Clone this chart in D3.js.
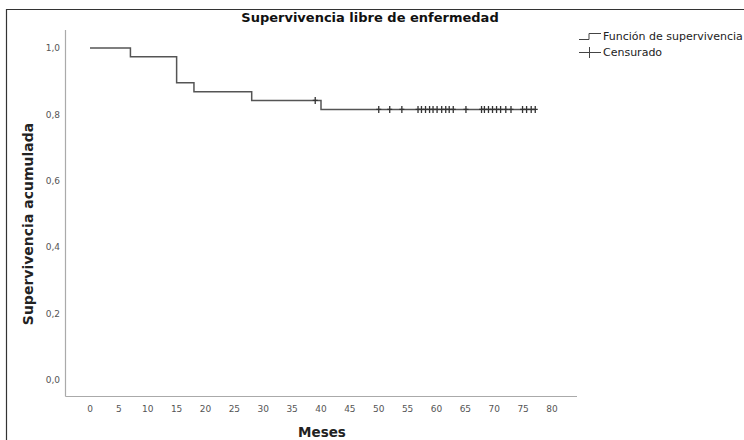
<!DOCTYPE html>
<html>
<head>
<meta charset="utf-8">
<script src="https://cdn.jsdelivr.net/npm/d3@7"></script>
<style>
  body { margin: 0; background: #fff; }
  svg { font-family: "DejaVu Sans", sans-serif; }
</style>
</head>
<body>
<div id="chart"></div>
<script>
// Kaplan-Meier steps
const stepTimes = [0, 7, 15, 18, 28, 40];
const stepSurvival = [1.0, 0.974, 0.895, 0.868, 0.842, 0.815];
const endTime = 77.1;
const censorTimes = [39, 50, 51.9, 54, 56.8, 57.4, 58.1, 58.8, 59.4, 60.1, 60.9, 61.6, 62.2, 62.9,
    65.1, 67.8, 68.3, 69, 69.7, 70.4, 71.1, 72, 72.9, 74.9, 75.6, 76.4, 77.1];
const xTicks = d3.range(0, 85, 5);
const yTicks = [0, 0.2, 0.4, 0.6, 0.8, 1.0];

const width = 744, height = 440;
const svg = d3.select("#chart").append("svg")
    .attr("width", width)
    .attr("height", height);

// outer frame (only top and left visible)
svg.append("path")
    .attr("d", `M6.5,${height} V9.5 H${width}`)
    .attr("fill", "none")
    .attr("stroke", "#333")
    .attr("stroke-width", 1.2);

const x = d3.scaleLinear().domain([0, 80]).range([90, 552]);
const y = d3.scaleLinear().domain([0, 1]).range([380, 48]);

// axis lines
svg.append("line")
    .attr("x1", 65.5).attr("x2", 65.5)
    .attr("y1", 30).attr("y2", 396.5)
    .attr("stroke", "#aaa").attr("stroke-width", 1.2);
svg.append("line")
    .attr("x1", 65.5).attr("x2", 577)
    .attr("y1", 396.5).attr("y2", 396.5)
    .attr("stroke", "#aaa").attr("stroke-width", 1.2);

const fmt = d => d3.format(".1f")(d).replace(".", ",");

svg.selectAll(".ytick")
    .data(yTicks)
    .enter()
    .append("text")
    .attr("class", "ytick")
    .attr("x", 60)
    .attr("y", d => y(d))
    .attr("dy", "0.35em")
    .attr("text-anchor", "end")
    .attr("font-size", 9)
    .attr("fill", "#555")
    .text(fmt);

svg.selectAll(".xtick")
    .data(xTicks)
    .enter()
    .append("text")
    .attr("class", "xtick")
    .attr("x", d => x(d))
    .attr("y", 412)
    .attr("text-anchor", "middle")
    .attr("font-size", 9)
    .attr("fill", "#555")
    .text(d => d);

// survival step line
const steps = stepTimes.map((t, i) => ({ t: t, s: stepSurvival[i] }));
steps.push({ t: endTime, s: stepSurvival[stepSurvival.length - 1] });
const line = d3.line()
    .x(d => x(d.t))
    .y(d => y(d.s))
    .curve(d3.curveStepAfter);

svg.append("path")
    .datum(steps)
    .attr("d", line)
    .attr("fill", "none")
    .attr("stroke", "#555")
    .attr("stroke-width", 1.5);

// censor marks
const survAt = t => {
    let s = stepSurvival[0];
    stepTimes.forEach((st, i) => { if (st <= t) s = stepSurvival[i]; });
    return s;
};
svg.selectAll(".censor")
    .data(censorTimes)
    .enter()
    .append("path")
    .attr("class", "censor")
    .attr("d", d => `M${x(d)},${y(survAt(d)) - 3.5}V${y(survAt(d)) + 3.5}M${x(d) - 2.5},${y(survAt(d))}H${x(d) + 2.5}`)
    .attr("stroke", "#333")
    .attr("stroke-width", 1.3);

// titles
svg.append("text")
    .attr("x", 370)
    .attr("y", 22)
    .attr("text-anchor", "middle")
    .attr("font-size", 13)
    .attr("font-weight", "bold")
    .attr("fill", "#111")
    .text("Supervivencia libre de enfermedad");

svg.append("text")
    .attr("x", 322)
    .attr("y", 437)
    .attr("text-anchor", "middle")
    .attr("font-size", 13.5)
    .attr("font-weight", "bold")
    .attr("fill", "#222")
    .text("Meses");

svg.append("text")
    .attr("transform", "translate(33,224)rotate(-90)")
    .attr("text-anchor", "middle")
    .attr("font-size", 14)
    .attr("font-weight", "bold")
    .attr("fill", "#222")
    .text("Supervivencia acumulada");

// legend
const legend = svg.append("g");
legend.append("path")
    .attr("d", "M579,39.5H589V33.5H601")
    .attr("fill", "none")
    .attr("stroke", "#444")
    .attr("stroke-width", 1);
legend.append("text")
    .attr("x", 603)
    .attr("y", 40)
    .attr("font-size", 11)
    .attr("fill", "#222")
    .text("Función de supervivencia");
legend.append("path")
    .attr("d", "M579,52.5H601M589.5,47V58")
    .attr("fill", "none")
    .attr("stroke", "#444")
    .attr("stroke-width", 1);
legend.append("text")
    .attr("x", 603)
    .attr("y", 56)
    .attr("font-size", 11)
    .attr("fill", "#222")
    .text("Censurado");
</script>
</body>
</html>
